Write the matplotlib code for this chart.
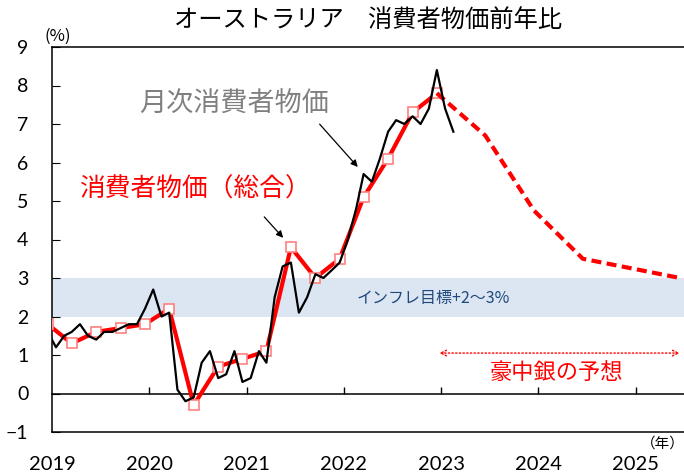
import matplotlib.pyplot as plt
import matplotlib.dates as mdates
import pandas as pd

plt.rcParams['font.family'] = ['Noto Sans CJK JP', 'DejaVu Sans']

# monthly CPI indicator (y/y %), Dec 2018 - Feb 2023
monthly_months = pd.date_range('2018-12-01', '2023-02-01', freq='MS')
monthly_cpi = [1.6,
               1.2, 1.5, 1.6, 1.8, 1.5, 1.4, 1.6, 1.6, 1.7, 1.8, 1.8, 2.2,
               2.7, 2.0, 2.1, 0.1, -0.2, -0.1, 0.8, 1.1, 0.4, 0.5, 1.1, 0.3,
               0.4, 1.1, 0.8, 2.5, 3.3, 3.4, 2.1, 2.5, 3.1, 3.0, 3.2, 3.4,
               4.0, 4.8, 5.7, 5.5, 6.1, 6.8, 7.1, 7.0, 7.2, 7.0, 7.4, 8.4,
               7.4, 6.8]

# quarterly CPI (all groups, y/y %), Dec 2018 - Dec 2022
quarter_months = pd.date_range('2018-12-01', '2022-12-01', freq='3MS')
quarterly_cpi = [1.8, 1.3, 1.6, 1.7, 1.8, 2.2, -0.3, 0.7, 0.9,
                 1.1, 3.8, 3.0, 3.5, 5.1, 6.1, 7.3, 7.8]

# RBA forecast
forecast_months = pd.to_datetime(['2022-12-01', '2023-06-01', '2023-12-01',
                                  '2024-06-01', '2024-12-01', '2025-06-01'])
forecast_cpi = [7.8, 6.7, 4.75, 3.5, 3.25, 3.0]

years = [2019, 2020, 2021, 2022, 2023, 2024, 2025]

# place each month in the middle of its month
half = pd.Timedelta(days=15)
m_x = monthly_months + half
q_x = quarter_months + half
f_x = forecast_months + half
year_x = pd.to_datetime([f'{y}-01-01' for y in years])

fig = plt.figure(figsize=(6.84, 4.75), dpi=100)
ax = fig.add_axes([52/684, 1-432/475, 1-52/684, (432-47)/475])

# inflation target band
ax.axhspan(2, 3, color='#dce6f2', lw=0, zorder=0)
ax.text(pd.Timestamp('2022-12-01'), 2.48, 'インフレ目標+2～3%', color='#1f497d',
        fontsize=11.5, style='italic', ha='center', va='center')

ax.plot(q_x, quarterly_cpi, color='red', lw=3, marker='s', ms=6.5,
        mfc='white', mec='#ff8080', mew=1.2, zorder=3)
ax.plot(f_x, forecast_cpi, color='red', lw=3, ls=(0, (2.4, 1.3)), zorder=3)
ax.plot(m_x, monthly_cpi, color='black', lw=1.6, zorder=4)

ax.set_xlim(pd.Timestamp('2019-01-01'), pd.Timestamp('2025-07-01'))
ax.set_ylim(-1, 9)
ax.set_yticks(range(-1, 10))
ax.set_xticks(year_x)
ax.set_xticklabels([str(y) for y in years])
ax.tick_params(axis='x', length=0, pad=17, labelsize=14.5)
ax.tick_params(axis='y', direction='in', length=6, pad=17, labelsize=14)
for lbl in ax.get_xticklabels() + ax.get_yticklabels():
    lbl.set_fontfamily(['Lato', 'DejaVu Sans'])

ax.spines['right'].set_visible(False)
for s in ['top', 'left', 'bottom']:
    ax.spines[s].set_linewidth(1.1)

# zero line with year tick marks
zero = ax.secondary_xaxis(0, transform=ax.transData)
zero.set_xticks(mdates.date2num(year_x[1:]))
zero.set_xticklabels([])
zero.tick_params(direction='in', length=5, width=1)
zero.spines['bottom'].set_linewidth(1.1)

# labels and arrows
ax.text(pd.Timestamp('2020-11-15'), 7.5, '月次消費者物価', color='#808080',
        fontsize=19.5, ha='center', va='center')
ax.annotate('', xy=(pd.Timestamp('2022-03-01'), 5.83),
            xytext=(pd.Timestamp('2021-09-25'), 7.05),
            arrowprops=dict(arrowstyle='-|>', color='black', lw=0.9,
                            mutation_scale=10))
ax.text(pd.Timestamp('2020-06-20'), 5.29, '消費者物価（総合）', color='red',
        fontsize=18.5, ha='center', va='center')
ax.annotate('', xy=(pd.Timestamp('2021-05-25'), 3.99),
            xytext=(pd.Timestamp('2021-03-01'), 4.64),
            arrowprops=dict(arrowstyle='-|>', color='black', lw=0.9,
                            mutation_scale=10))

ax.annotate('', xy=(pd.Timestamp('2025-06-25'), 1.05),
            xytext=(pd.Timestamp('2022-12-15'), 1.05),
            arrowprops=dict(arrowstyle='<->', color='red', lw=1, ls=':',
                            mutation_scale=10))
ax.text(pd.Timestamp('2024-03-10'), 0.55, '豪中銀の予想', color='red',
        fontsize=16, ha='center', va='center')

fig.text(368/684, 1-20/475, 'オーストラリア　消費者物価前年比', fontsize=17.5,
         ha='center', va='center')
fig.text(44/684, 1-36/475, '(%)', fontsize=12, ha='left', va='center')
fig.text(641/684, 1-444/475, '（年）', fontsize=10.5, ha='left', va='center')

fig.savefig('out.png', dpi=100)
